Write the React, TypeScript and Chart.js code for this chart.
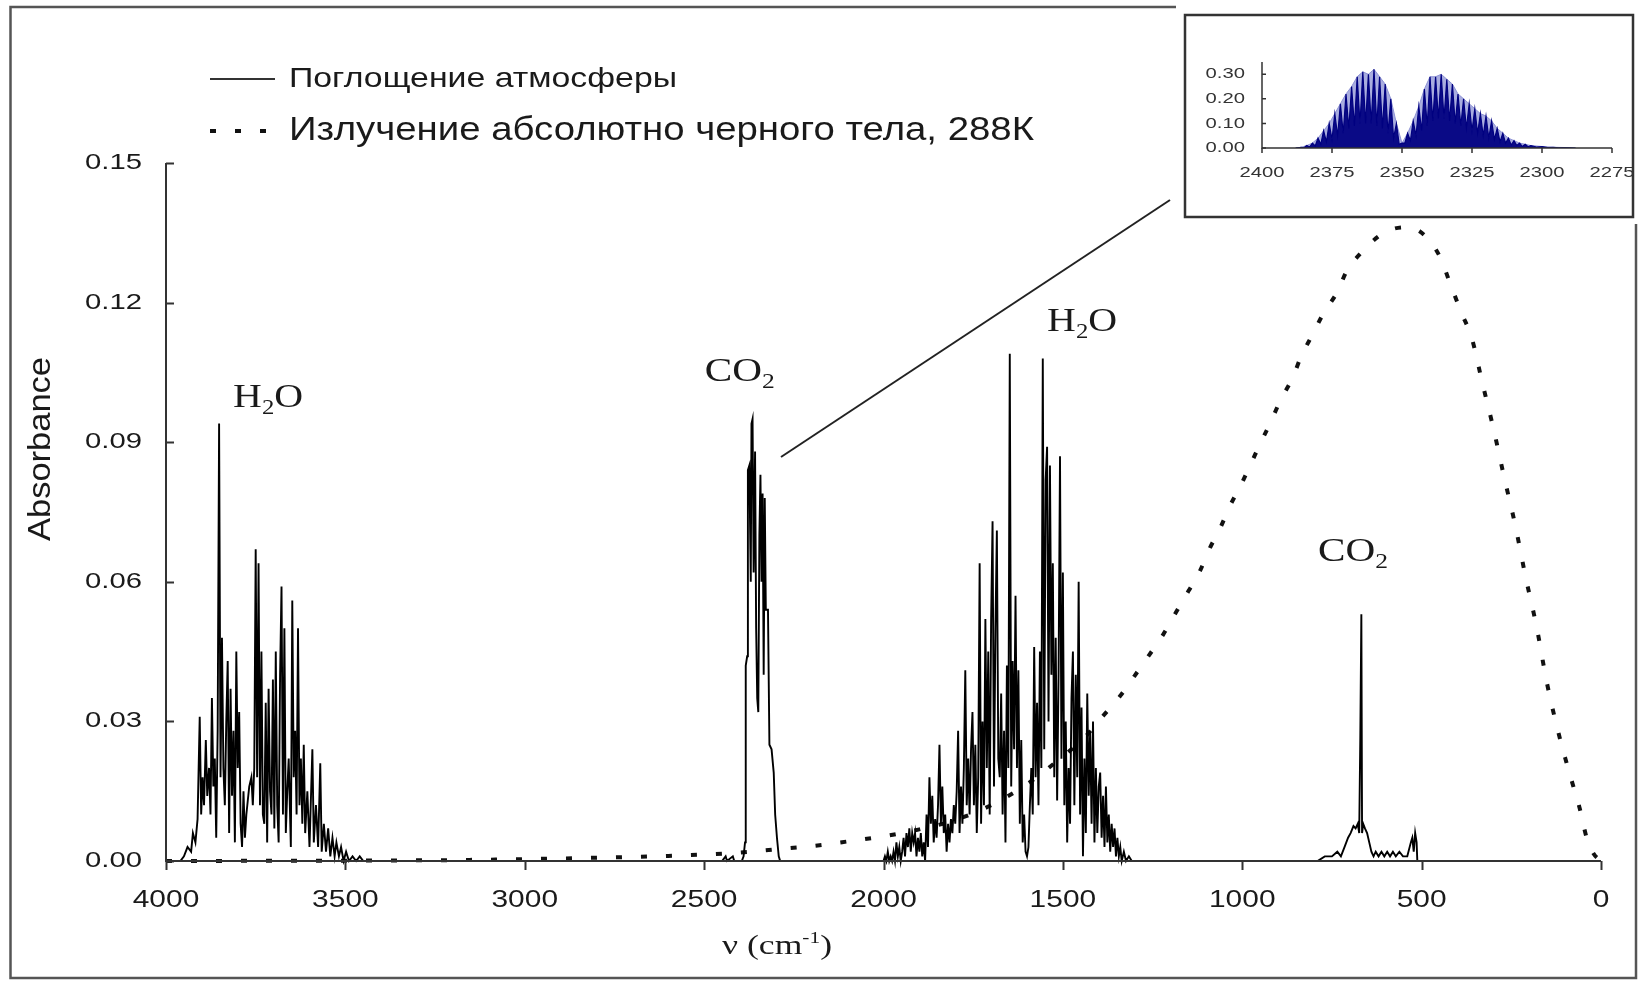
import React, { useEffect, useRef } from 'react';
import { Chart, registerables } from 'chart.js';

Chart.register(...registerables);

// ---------- tick labels ----------
const X_TICKS = [4000, 3500, 3000, 2500, 2000, 1500, 1000, 500, 0];
const Y_TICKS = [0, 0.03, 0.06, 0.09, 0.12, 0.15];
const INSET_X_TICKS = [2400, 2375, 2350, 2325, 2300, 2275];
const INSET_Y_TICKS = [0, 0.1, 0.2, 0.3];

// ---------- texts ----------
const LEGEND_ABS = 'Поглощение атмосферы';
const LEGEND_BB = 'Излучение абсолютно черного тела, 288К';
const Y_TITLE = 'Absorbance';

// ---------- absorption spectrum [wavenumber cm-1, absorbance] ----------
const BASE_HIGH: [number, number][] = [[4000, 0], [3965, 0]];
const H2O_BAND_3700: [number, number][] = [
  [3960, 0.000], [3950, 0.001], [3940, 0.003], [3930, 0.002], [3925, 0.006], [3918, 0.004],
  [3912, 0.009], [3906, 0.031], [3902, 0.010], [3898, 0.018], [3894, 0.012], [3889, 0.026],
  [3885, 0.014], [3880, 0.020], [3876, 0.010], [3872, 0.035], [3868, 0.016], [3864, 0.022],
  [3860, 0.005], [3856, 0.028], [3852, 0.094], [3848, 0.018], [3844, 0.048], [3840, 0.020],
  [3836, 0.012], [3832, 0.030], [3828, 0.043], [3824, 0.006], [3820, 0.037], [3816, 0.014],
  [3812, 0.028], [3808, 0.004], [3804, 0.045], [3800, 0.020], [3796, 0.032], [3792, 0.008],
  [3788, 0.003], [3784, 0.015], [3780, 0.005], [3776, 0.010], [3772, 0.013], [3768, 0.016],
  [3762, 0.018], [3758, 0.012], [3754, 0.020], [3750, 0.067], [3746, 0.018], [3742, 0.064],
  [3738, 0.012], [3734, 0.045], [3730, 0.010], [3726, 0.008], [3722, 0.034], [3718, 0.004],
  [3714, 0.037], [3710, 0.015], [3706, 0.010], [3702, 0.039], [3698, 0.007], [3694, 0.045],
  [3690, 0.012], [3686, 0.004], [3682, 0.040], [3678, 0.059], [3674, 0.010], [3670, 0.050],
  [3666, 0.006], [3662, 0.015], [3658, 0.022], [3652, 0.003], [3648, 0.056], [3644, 0.018],
  [3640, 0.028], [3636, 0.010], [3632, 0.050], [3628, 0.012], [3624, 0.022], [3620, 0.008],
  [3616, 0.025], [3612, 0.006], [3606, 0.015], [3600, 0.003], [3592, 0.024], [3588, 0.004],
  [3582, 0.012], [3576, 0.003], [3570, 0.021], [3566, 0.002], [3560, 0.008], [3554, 0.002],
  [3548, 0.007], [3542, 0.001], [3536, 0.005], [3530, 0.001], [3525, 0.004], [3518, 0.001],
  [3512, 0.003], [3505, 0.000], [3498, 0.002], [3490, 0.000], [3480, 0.001], [3470, 0.000],
  [3460, 0.001], [3450, 0.000],
];
const BASE_MID1: [number, number][] = [[3440, 0], [2450, 0], [2440, 0.001], [2436, 0], [2420, 0.001], [2416, 0], [2400, 0]];
const CO2_BAND_2350: [number, number][] = [
  [2395, 0.000], [2390, 0.001], [2386, 0.004], [2384, 0.042], [2380, 0.044], [2378, 0.084],
  [2374, 0.085], [2370, 0.060], [2368, 0.094], [2365, 0.095], [2362, 0.062], [2358, 0.088],
  [2355, 0.050], [2352, 0.035], [2349, 0.032], [2346, 0.070], [2343, 0.083], [2340, 0.060],
  [2337, 0.079], [2334, 0.040], [2331, 0.078], [2328, 0.054], [2322, 0.054], [2318, 0.025],
  [2312, 0.024], [2306, 0.019], [2302, 0.010], [2297, 0.005], [2292, 0.001], [2288, 0.000],
];
const BASE_MID2: [number, number][] = [[2280, 0], [2005, 0]];
const H2O_BAND_1600: [number, number][] = [
  [2000, 0.000], [1996, 0.001], [1992, 0.000], [1988, 0.002], [1984, 0.000], [1980, 0.001],
  [1976, 0.000], [1972, 0.002], [1968, 0.000], [1964, 0.004], [1960, 0.001], [1956, 0.003],
  [1952, 0.000], [1948, 0.002], [1944, 0.005], [1940, 0.001], [1936, 0.006], [1932, 0.003],
  [1928, 0.007], [1924, 0.002], [1920, 0.006], [1916, 0.004], [1912, 0.006], [1908, 0.001],
  [1904, 0.005], [1900, 0.002], [1896, 0.006], [1892, 0.001], [1888, 0.004], [1884, 0.000],
  [1880, 0.010], [1876, 0.003], [1872, 0.018], [1868, 0.008], [1864, 0.014], [1860, 0.004],
  [1856, 0.009], [1852, 0.005], [1848, 0.012], [1844, 0.025], [1840, 0.008], [1836, 0.016],
  [1832, 0.006], [1828, 0.010], [1824, 0.002], [1820, 0.008], [1816, 0.004], [1812, 0.009],
  [1808, 0.006], [1804, 0.012], [1800, 0.008], [1796, 0.015], [1792, 0.028], [1788, 0.006],
  [1784, 0.016], [1780, 0.008], [1776, 0.020], [1772, 0.041], [1768, 0.012], [1764, 0.022],
  [1760, 0.010], [1756, 0.024], [1752, 0.032], [1748, 0.012], [1744, 0.025], [1740, 0.006],
  [1736, 0.018], [1732, 0.064], [1728, 0.008], [1724, 0.030], [1720, 0.012], [1716, 0.052],
  [1712, 0.020], [1708, 0.045], [1704, 0.010], [1700, 0.052], [1696, 0.073], [1692, 0.016],
  [1688, 0.050], [1684, 0.071], [1680, 0.022], [1676, 0.018], [1672, 0.036], [1668, 0.010],
  [1664, 0.028], [1660, 0.004], [1656, 0.042], [1652, 0.020], [1648, 0.109], [1644, 0.016],
  [1640, 0.043], [1636, 0.024], [1632, 0.057], [1628, 0.020], [1624, 0.041], [1620, 0.008],
  [1616, 0.026], [1612, 0.004], [1608, 0.010], [1604, 0.002], [1600, 0.001], [1596, 0.003],
  [1592, 0.012], [1588, 0.020], [1584, 0.010], [1580, 0.046], [1576, 0.018], [1572, 0.034],
  [1568, 0.012], [1564, 0.045], [1560, 0.020], [1556, 0.108], [1552, 0.024], [1548, 0.082],
  [1544, 0.089], [1540, 0.030], [1536, 0.085], [1532, 0.040], [1528, 0.064], [1524, 0.018],
  [1520, 0.048], [1516, 0.013], [1512, 0.040], [1508, 0.087], [1504, 0.022], [1500, 0.062],
  [1496, 0.012], [1492, 0.030], [1488, 0.004], [1484, 0.020], [1480, 0.008], [1476, 0.035],
  [1472, 0.045], [1468, 0.012], [1464, 0.040], [1460, 0.018], [1456, 0.060], [1452, 0.010],
  [1448, 0.033], [1444, 0.001], [1440, 0.022], [1436, 0.006], [1432, 0.036], [1428, 0.014],
  [1424, 0.028], [1420, 0.008], [1416, 0.030], [1412, 0.004], [1408, 0.020], [1404, 0.006],
  [1400, 0.016], [1396, 0.019], [1392, 0.005], [1388, 0.014], [1384, 0.003], [1380, 0.016],
  [1376, 0.004], [1372, 0.010], [1368, 0.002], [1364, 0.008], [1360, 0.003], [1356, 0.007],
  [1352, 0.001], [1348, 0.005], [1344, 0.001], [1340, 0.003], [1336, 0.000], [1330, 0.002],
  [1324, 0.000], [1316, 0.001], [1308, 0.000], [1300, 0.000],
];
const BASE_MID3: [number, number][] = [[1290, 0], [795, 0]];
const CO2_BAND_667: [number, number][] = [
  [790, 0.000], [770, 0.001], [750, 0.001], [735, 0.002], [725, 0.001], [715, 0.003],
  [705, 0.005], [698, 0.006], [690, 0.0075], [684, 0.007], [678, 0.008], [674, 0.006],
  [671, 0.026], [668, 0.053], [666, 0.006], [663, 0.008], [658, 0.007], [652, 0.006],
  [646, 0.004], [640, 0.002], [634, 0.001], [628, 0.002], [620, 0.001], [612, 0.002],
  [604, 0.001], [596, 0.002], [588, 0.001], [580, 0.002], [572, 0.001], [562, 0.002],
  [552, 0.001], [540, 0.001], [530, 0.004], [526, 0.005], [522, 0.002], [518, 0.006],
  [514, 0.004], [512, 0.000], [505, 0.000],
];
const BASE_LOW: [number, number][] = [[495, 0], [0, 0]];

// ---------- black body emission 288 K (arbitrary scale) ----------
const BB_NU = [
  4000, 3800, 3600, 3400, 3200, 3000, 2800, 2600, 2400, 2300, 2200, 2100, 2000, 1900, 1800,
  1700, 1600, 1500, 1440, 1390, 1340, 1300, 1260, 1220, 1185, 1150, 1120, 1090, 1060, 1035,
  1005, 975, 950, 920, 895, 860, 835, 805, 775, 735, 710, 665, 605, 546, 500, 450, 420, 390,
  360, 330, 300, 270, 240, 210, 180, 150, 120, 100, 80, 60, 40, 20, 0,
];
const BB_VAL = [
  0, 0.00003, 0.00005, 0.0001, 0.0002, 0.0004, 0.0007, 0.0011, 0.0018, 0.0025, 0.0032, 0.0042,
  0.0053, 0.0068, 0.0088, 0.012, 0.0165, 0.0225, 0.0265, 0.031, 0.0355, 0.0398, 0.0442, 0.0487,
  0.0534, 0.058, 0.062, 0.0673, 0.0718, 0.0762, 0.0806, 0.0855, 0.0897, 0.0944, 0.0988, 0.1038,
  0.1086, 0.113, 0.1175, 0.1223, 0.1266, 0.131, 0.135, 0.1362, 0.135, 0.13, 0.124, 0.118,
  0.1123, 0.1025, 0.093, 0.0825, 0.0725, 0.061, 0.0505, 0.038, 0.028, 0.0222, 0.0168, 0.0115,
  0.005, 0.0015, 0,
];

// ---------- inset: CO2 band 2400–2275 cm-1 ----------
const INSET_CO2: [number, number][] = [
  [2388, 0], [2386, 0.003], [2385, 0.001], [2384, 0.010], [2383, 0.004], [2382, 0.020],
  [2381, 0.008], [2380, 0.040], [2379, 0.015], [2378, 0.070], [2377, 0.025], [2376, 0.100],
  [2375, 0.035], [2374, 0.140], [2373, 0.050], [2372, 0.180], [2371, 0.060], [2370, 0.220],
  [2369, 0.080], [2368, 0.250], [2367, 0.090], [2366, 0.290], [2365, 0.100], [2364, 0.310],
  [2363, 0.100], [2362, 0.300], [2361, 0.100], [2360, 0.320], [2359, 0.090], [2358, 0.290],
  [2357, 0.080], [2356, 0.260], [2355, 0.060], [2354, 0.200], [2353, 0.040], [2352, 0.100],
  [2351, 0.015], [2350, 0.020], [2349, 0.020], [2348, 0.060], [2347, 0.030], [2346, 0.110],
  [2345, 0.050], [2344, 0.170], [2343, 0.070], [2342, 0.240], [2341, 0.090], [2340, 0.290],
  [2339, 0.110], [2338, 0.290], [2337, 0.120], [2336, 0.300], [2335, 0.120], [2334, 0.280],
  [2333, 0.110], [2332, 0.260], [2331, 0.100], [2330, 0.220], [2329, 0.090], [2328, 0.200],
  [2327, 0.080], [2326, 0.180], [2325, 0.070], [2324, 0.160], [2323, 0.060], [2322, 0.140],
  [2321, 0.050], [2320, 0.130], [2319, 0.040], [2318, 0.110], [2317, 0.035], [2316, 0.080],
  [2315, 0.025], [2314, 0.060], [2313, 0.020], [2312, 0.040], [2311, 0.012], [2310, 0.030],
  [2309, 0.010], [2308, 0.020], [2307, 0.006], [2306, 0.015], [2305, 0.005], [2304, 0.010],
  [2302, 0.004], [2300, 0.006], [2298, 0.002], [2296, 0.003], [2294, 0.001], [2292, 0.002],
  [2290, 0.001], [2288, 0],
];

// ---------- annotation labels (formula parts, anchor in data units) ----------
const ANNOTATIONS: { parts: [string, boolean][]; nu: number; a: number }[] = [
  { parts: [['H', false], ['2', true], ['O', false]], nu: 3813, a: 0.0999 },
  { parts: [['C', false], ['O', false], ['2', true]], nu: 2498, a: 0.1055 },
  { parts: [['H', false], ['2', true], ['O', false]], nu: 1544, a: 0.1163 },
  { parts: [['C', false], ['O', false], ['2', true]], nu: 789, a: 0.0668 },
];

const SANS = '"Liberation Sans", Arial, sans-serif';
const SERIF = '"Liberation Serif", "Times New Roman", serif';
const TEXT = '#1a1a1a';

function drawText(
  ctx: CanvasRenderingContext2D, text: string, x: number, y: number, font: string,
  align: 'left' | 'right' | 'center', sx: number, targetW?: number,
) {
  ctx.save();
  ctx.font = font;
  ctx.textBaseline = 'middle';
  ctx.textAlign = 'left';
  const m = ctx.measureText(text).width;
  const s = targetW ? targetW / m : sx;
  const w = m * s;
  const x0 = align === 'left' ? x : align === 'right' ? x - w : x - w / 2;
  ctx.translate(x0, y);
  ctx.scale(s, 1);
  ctx.fillText(text, 0, 0);
  ctx.restore();
}

function drawFormula(
  ctx: CanvasRenderingContext2D, parts: [string, boolean][], x: number, cy: number,
  size: number, targetW: number,
) {
  ctx.save();
  ctx.textBaseline = 'alphabetic';
  ctx.textAlign = 'left';
  let total = 0;
  for (const [t, sub] of parts) {
    ctx.font = `${sub ? size * 0.62 : size}px ${SERIF}`;
    total += ctx.measureText(t).width;
  }
  const s = targetW / total;
  const base = cy + size * 0.33;
  ctx.translate(x, base);
  ctx.scale(s, 1);
  let cx = 0;
  for (const [t, sub] of parts) {
    ctx.font = `${sub ? size * 0.62 : size}px ${SERIF}`;
    ctx.fillText(t, cx, sub ? size * 0.2 : 0);
    cx += ctx.measureText(t).width;
  }
  ctx.restore();
}

const mainDecor = {
  id: 'mainDecor',
  beforeDraw(chart: any) {
    const ctx = chart.ctx as CanvasRenderingContext2D;
    ctx.save();
    ctx.fillStyle = '#fff';
    ctx.fillRect(0, 0, chart.width, chart.height);
    ctx.restore();
  },
  afterDraw(chart: any) {
    const ctx = chart.ctx as CanvasRenderingContext2D;
    const xs = chart.scales.x;
    const ys = chart.scales.y;
    const { left, right, top, bottom } = chart.chartArea;
    ctx.save();
    // outer frame
    ctx.strokeStyle = '#555';
    ctx.lineWidth = 2.5;
    ctx.strokeRect(10.5, 7, 1625.5, 971);
    // axes
    ctx.strokeStyle = '#333';
    ctx.lineWidth = 2;
    ctx.beginPath();
    ctx.moveTo(left, top);
    ctx.lineTo(left, bottom);
    ctx.lineTo(right, bottom);
    ctx.stroke();
    ctx.beginPath();
    for (const v of Y_TICKS) {
      const y = Math.round(ys.getPixelForValue(v)) + 0.5;
      ctx.moveTo(left, y);
      ctx.lineTo(left + 8, y);
    }
    for (const v of X_TICKS) {
      const x = Math.round(xs.getPixelForValue(v)) + 0.5;
      ctx.moveTo(x, bottom);
      ctx.lineTo(x, bottom + 9);
    }
    ctx.stroke();
    ctx.fillStyle = TEXT;
    for (const v of Y_TICKS) {
      drawText(ctx, v.toFixed(2), left - 24, ys.getPixelForValue(v), `22px ${SANS}`, 'right', 1.33);
    }
    for (const v of X_TICKS) {
      drawText(ctx, String(v), xs.getPixelForValue(v), bottom + 40, `23px ${SANS}`, 'center', 1.3);
    }
    // y title
    ctx.save();
    ctx.translate(41, 449);
    ctx.rotate(-Math.PI / 2);
    drawText(ctx, Y_TITLE, 0, 0, `31px ${SANS}`, 'center', 1, 184);
    ctx.restore();
    // x title: ν (cm-1)
    ctx.save();
    const fs = 27;
    ctx.font = `${fs}px ${SERIF}`;
    const p1 = 'ν (cm';
    const p3 = ')';
    const w1 = ctx.measureText(p1).width;
    const w3 = ctx.measureText(p3).width;
    ctx.font = `${fs * 0.6}px ${SERIF}`;
    const w2 = ctx.measureText('-1').width;
    const tot = w1 + w2 + w3;
    const s = 110 / tot;
    ctx.translate(722, 954);
    ctx.scale(s, 1);
    ctx.textBaseline = 'alphabetic';
    ctx.font = `${fs}px ${SERIF}`;
    ctx.fillText(p1, 0, 0);
    ctx.font = `${fs * 0.6}px ${SERIF}`;
    ctx.fillText('-1', w1, -fs * 0.42);
    ctx.font = `${fs}px ${SERIF}`;
    ctx.fillText(p3, w1 + w2, 0);
    ctx.restore();
    // legend
    const ds0 = chart.data.datasets[0];
    const ds1 = chart.data.datasets[1];
    ctx.strokeStyle = '#333';
    ctx.lineWidth = 2;
    ctx.beginPath();
    ctx.moveTo(210, 79);
    ctx.lineTo(275, 79);
    ctx.stroke();
    drawText(ctx, ds0.label, 289, 79, `28px ${SANS}`, 'left', 1, 388);
    ctx.save();
    ctx.strokeStyle = '#111';
    ctx.lineWidth = 4;
    ctx.setLineDash([6, 19]);
    ctx.beginPath();
    ctx.moveTo(210, 131);
    ctx.lineTo(266, 131);
    ctx.stroke();
    ctx.restore();
    drawText(ctx, ds1.label, 289, 131, `34px ${SANS}`, 'left', 1, 745);
    // annotations
    for (const an of ANNOTATIONS) {
      drawFormula(ctx, an.parts, xs.getPixelForValue(an.nu), ys.getPixelForValue(an.a), 34, 70);
    }
    // connector to inset
    ctx.strokeStyle = '#222';
    ctx.lineWidth = 2;
    ctx.beginPath();
    ctx.moveTo(781, 457);
    ctx.lineTo(1170, 200);
    ctx.stroke();
    ctx.restore();
  },
};

const insetDecor = {
  id: 'insetDecor',
  beforeDraw(chart: any) {
    const ctx = chart.ctx as CanvasRenderingContext2D;
    ctx.save();
    ctx.fillStyle = '#fff';
    ctx.fillRect(0, 0, chart.width, chart.height);
    ctx.restore();
  },
  afterDraw(chart: any) {
    const ctx = chart.ctx as CanvasRenderingContext2D;
    const xs = chart.scales.x;
    const ys = chart.scales.y;
    const { left, right, top, bottom } = chart.chartArea;
    ctx.save();
    ctx.strokeStyle = '#333';
    ctx.lineWidth = 2.5;
    ctx.strokeRect(9, 15, 448, 202);
    ctx.lineWidth = 1.5;
    ctx.beginPath();
    ctx.moveTo(left, top);
    ctx.lineTo(left, bottom);
    ctx.lineTo(right, bottom);
    ctx.stroke();
    ctx.beginPath();
    for (const v of INSET_Y_TICKS) {
      const y = ys.getPixelForValue(v);
      ctx.moveTo(left, y);
      ctx.lineTo(left + 4, y);
    }
    for (const v of INSET_X_TICKS) {
      const x = xs.getPixelForValue(v);
      ctx.moveTo(x, bottom);
      ctx.lineTo(x, bottom + 5);
    }
    ctx.stroke();
    ctx.fillStyle = '#333';
    for (const v of INSET_Y_TICKS) {
      drawText(ctx, v.toFixed(2), left - 17, ys.getPixelForValue(v), `15px ${SANS}`, 'right', 1.35);
    }
    for (const v of INSET_X_TICKS) {
      drawText(ctx, String(v), xs.getPixelForValue(v), 173, `15px ${SANS}`, 'center', 1.35);
    }
    ctx.restore();
  },
};

export default function App() {
  const mainRef = useRef<HTMLCanvasElement>(null);
  const insetRef = useRef<HTMLCanvasElement>(null);

  useEffect(() => {
    const absorption = [
      ...BASE_HIGH, ...H2O_BAND_3700, ...BASE_MID1, ...CO2_BAND_2350, ...BASE_MID2,
      ...H2O_BAND_1600, ...BASE_MID3, ...CO2_BAND_667, ...BASE_LOW,
    ].map(([x, y]) => ({ x, y }));
    const blackbody = BB_NU.map((x, i) => ({ x, y: BB_VAL[i] }));

    const insetLines = INSET_CO2.map(([x, y]) => ({ x, y }));
    // envelope: the line tops (local maxima) of the same measured lines
    const insetEnvelope = insetLines.filter((p, i, arr) => {
      const prev = arr[i - 1];
      const next = arr[i + 1];
      return !prev || !next || (p.y >= prev.y && p.y >= next.y);
    });

    const main = new Chart(mainRef.current!, {
      type: 'line',
      data: {
        datasets: [
          {
            label: LEGEND_ABS,
            data: absorption,
            borderColor: '#000',
            borderWidth: 1.9,
            pointRadius: 0,
            tension: 0,
            fill: false,
            clip: false,
          } as any,
          {
            label: LEGEND_BB,
            data: blackbody,
            borderColor: '#111',
            borderWidth: 4,
            borderDash: [6, 19],
            pointRadius: 0,
            cubicInterpolationMode: 'monotone',
            fill: false,
            clip: false,
          } as any,
        ],
      },
      options: {
        animation: false,
        responsive: false,
        devicePixelRatio: 1,
        events: [],
        layout: { padding: { left: 0, top: 163, right: 45, bottom: 0 } },
        plugins: { legend: { display: false }, tooltip: { enabled: false } },
        scales: {
          x: {
            type: 'linear',
            min: 0,
            max: 4000,
            reverse: true,
            ticks: { display: false, stepSize: 500 },
            grid: { display: false, drawTicks: false },
            border: { display: false },
            afterFit: (s: any) => { s.height = 121; },
          },
          y: {
            type: 'linear',
            min: 0,
            max: 0.15,
            ticks: { display: false, stepSize: 0.03 },
            grid: { display: false, drawTicks: false },
            border: { display: false },
            afterFit: (s: any) => { s.width = 166; },
          },
        },
      } as any,
      plugins: [mainDecor],
    });

    const inset = new Chart(insetRef.current!, {
      type: 'line',
      data: {
        datasets: [
          {
            label: 'CO2 lines',
            data: insetLines,
            borderColor: '#000080',
            borderWidth: 1.2,
            backgroundColor: '#0a0a86',
            fill: 'origin',
            pointRadius: 0,
            tension: 0,
            order: 1,
          } as any,
          {
            label: 'envelope',
            data: insetEnvelope,
            borderColor: '#8e93d6',
            borderWidth: 1,
            backgroundColor: '#a9addf',
            fill: 'origin',
            pointRadius: 0,
            tension: 0,
            order: 2,
          } as any,
        ],
      },
      options: {
        animation: false,
        responsive: false,
        devicePixelRatio: 1,
        events: [],
        layout: { padding: { left: 0, top: 62, right: 34, bottom: 0 } },
        plugins: { legend: { display: false }, tooltip: { enabled: false } },
        scales: {
          x: {
            type: 'linear',
            min: 2275,
            max: 2400,
            reverse: true,
            ticks: { display: false, stepSize: 25 },
            grid: { display: false, drawTicks: false },
            border: { display: false },
            afterFit: (s: any) => { s.height = 76; },
          },
          y: {
            type: 'linear',
            min: 0,
            max: 0.35,
            ticks: { display: false, stepSize: 0.1 },
            grid: { display: false, drawTicks: false },
            border: { display: false },
            afterFit: (s: any) => { s.width = 86; },
          },
        },
      } as any,
      plugins: [insetDecor],
    });

    return () => {
      main.destroy();
      inset.destroy();
    };
  }, []);

  return (
    <div style={{ position: 'fixed', left: 0, top: 0, width: 1646, height: 982, background: '#fff' }}>
      <canvas
        ref={mainRef}
        width={1646}
        height={982}
        style={{ position: 'absolute', left: 0, top: 0, width: 1646, height: 982 }}
      />
      <canvas
        ref={insetRef}
        width={470}
        height={224}
        style={{ position: 'absolute', left: 1176, top: 0, width: 470, height: 224 }}
      />
    </div>
  );
}
